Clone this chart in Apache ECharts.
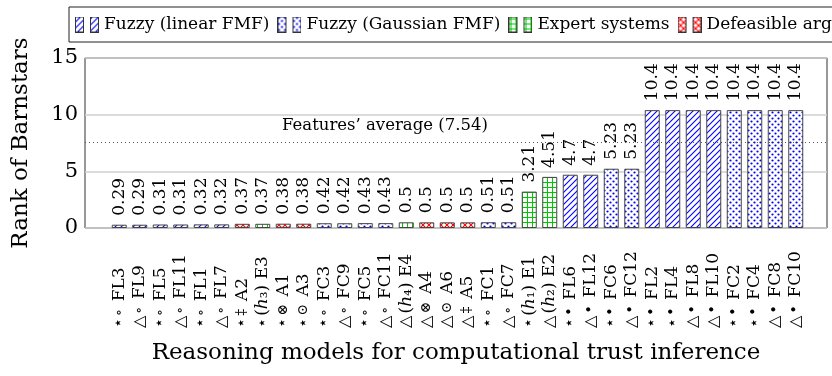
<!DOCTYPE html>
<html><head><meta charset="utf-8">
<script src="https://cdn.jsdelivr.net/npm/echarts@6/dist/echarts.min.js"></script>
<style>html,body{margin:0;padding:0;background:#fff}#c{width:832px;height:376px}</style>
</head><body><div id="c"></div>
<script>
// ---- data ----
const marks = ['⋆','△','⋆','△','⋆','△','⋆','⋆','⋆','⋆','⋆','△','⋆','△','△','△','△','△','⋆','△','⋆','△','⋆','△','⋆','△','⋆','⋆','△','△','⋆','⋆','△','△'];
const kinds = ['∘','∘','∘','∘','∘','∘','‡','h3','⊗','⊙','∘','∘','∘','∘','h4','⊗','⊙','‡','∘','∘','h1','h2','•','•','•','•','•','•','•','•','•','•','•','•'];
const names = ['FL3','FL9','FL5','FL11','FL1','FL7','A2','E3','A1','A3','FC3','FC9','FC5','FC11','E4','A4','A6','A5','FC1','FC7','E1','E2','FL6','FL12','FC6','FC12','FL2','FL4','FL8','FL10','FC2','FC4','FC8','FC10'];
const values = [0.29,0.29,0.31,0.31,0.32,0.32,0.37,0.37,0.38,0.38,0.42,0.42,0.43,0.43,0.5,0.5,0.5,0.5,0.51,0.51,3.21,4.51,4.7,4.7,5.23,5.23,10.4,10.4,10.4,10.4,10.4,10.4,10.4,10.4];
const types = ['L','L','L','L','L','L','D','E','D','D','G','G','G','G','E','D','D','D','G','G','E','E','L','L','G','G','L','L','L','L','G','G','G','G'];
const seriesKeys = ['L','G','E','D'];
const seriesNames = ['Fuzzy (linear FMF)','Fuzzy (Gaussian FMF)','Expert systems','Defeasible arg.'];
const yMin = 0, yMax = 15, yStep = 5;
const average = 7.54;
const averageLabel = 'Features’ average (7.54)';
const yTitle = 'Rank of Barnstars';
const xTitle = 'Reasoning models for computational trust inference';

const F = 'DejaVu Serif';
const SUB = {'1':'₁','2':'₂','3':'₃','4':'₄'};

// ---- patterns ----
function tile(k){
  const c = document.createElement('canvas');
  const s = k==='E' ? 5 : 6;
  c.width = s; c.height = s;
  const g = c.getContext('2d');
  g.fillStyle = '#ffffff'; g.fillRect(0,0,s,s);
  g.lineWidth = 1.1;
  function diag(dir, col){
    g.strokeStyle = col;
    g.beginPath();
    if(dir>0){ g.moveTo(-1,s+1); g.lineTo(s+1,-1); g.moveTo(-1,1); g.lineTo(1,-1); g.moveTo(s-1,s+1); g.lineTo(s+1,s-1); }
    else { g.moveTo(-1,-1); g.lineTo(s+1,s+1); g.moveTo(s-1,-1); g.lineTo(s+1,1); g.moveTo(-1,s-1); g.lineTo(1,s+1); }
    g.stroke();
  }
  if(k==='L'){ diag(1,'rgb(0,0,255)'); }
  if(k==='D'){ diag(1,'rgb(255,0,0)'); diag(-1,'rgb(255,0,0)'); }
  if(k==='E'){ g.strokeStyle='rgb(0,200,0)'; g.lineWidth=1; g.beginPath(); g.moveTo(2.5,0); g.lineTo(2.5,s); g.moveTo(0,2.5); g.lineTo(s,2.5); g.stroke(); }
  if(k==='G'){ g.fillStyle='rgb(0,0,255)'; g.beginPath(); g.arc(1.5,1.5,1.1,0,7); g.fill(); g.beginPath(); g.arc(4.5,4.5,1.1,0,7); g.fill(); }
  return c;
}
const tiles = {}; seriesKeys.forEach(k=>tiles[k]=tile(k));

function icon(k){
  const c = document.createElement('canvas'); c.width=24; c.height=16;
  const g = c.getContext('2d');
  const p = g.createPattern(tiles[k],'repeat');
  [[0.5,0.5,8,15],[15.5,0.5,8,15]].forEach(r=>{
    g.fillStyle=p; g.fillRect(r[0],r[1],r[2],r[3]);
    g.strokeStyle='#333'; g.lineWidth=1; g.strokeRect(r[0],r[1],r[2],r[3]);
  });
  return 'image://' + c.toDataURL();
}

const categories = names.map((n,i)=>i);
function catLabel(i){
  const k = kinds[i];
  const mid = k[0]==='h' ? '({i|h}' + SUB[k[1]] + ')' : '{k|' + k + '}{g| }';
  return '{m|' + marks[i] + '}{g| }' + mid + ' ' + names[i];
}

const LF = 17;
const chart = echarts.init(document.getElementById('c'), null, {renderer:'canvas'});
const frame = {left:85, right:5, top:58, bottom:148};
chart.setOption({
  animation:false,
  backgroundColor:'#fff',
  legend:{
    left:69, top:7, width:1200, padding:[9,6], itemGap:8, itemWidth:24, itemHeight:16,
    borderColor:'#222', borderWidth:1, selectedMode:false,
    textStyle:{fontFamily:F, fontSize:17, color:'#000'},
    data: seriesNames.map((n,si)=>({name:n, icon:icon(seriesKeys[si])}))
  },
  grid:[
    {left:109, right:26, top:frame.top, bottom:frame.bottom},
    {left:frame.left, right:frame.right, top:frame.top, bottom:frame.bottom, show:true, borderColor:'#333', borderWidth:1, backgroundColor:'transparent'}
  ],
  xAxis:[
    {type:'category', gridIndex:0, data:categories, boundaryGap:true,
     axisLine:{show:false}, axisTick:{show:false},
     axisLabel:{interval:0, rotate:90, align:'left', verticalAlign:'middle', margin:100,
       fontFamily:F, fontSize:LF, color:'#000', formatter:(v)=>catLabel(+v),
       rich:{
         i:{fontStyle:'italic', fontFamily:F, fontSize:LF, color:'#000'},
         m:{fontFamily:F, fontSize:16, color:'#000'},
         k:{fontFamily:F, fontSize:14, color:'#000'},
         g:{fontFamily:F, fontSize:7, color:'#000'}
       }}},
    {type:'value', gridIndex:1, min:0, max:1, axisLine:{show:false}, axisTick:{show:false}, axisLabel:{show:false}, splitLine:{show:false},
     name:xTitle, nameLocation:'middle', nameGap:114, nameTextStyle:{fontFamily:F, fontSize:23, color:'#000'}}
  ],
  yAxis:[
    {type:'value', gridIndex:0, min:yMin, max:yMax, interval:yStep, show:false},
    {type:'value', gridIndex:1, min:yMin, max:yMax, interval:yStep,
     axisLine:{show:false}, axisTick:{show:false},
     axisLabel:{fontFamily:F, fontSize:21, color:'#000', margin:7},
     splitLine:{show:true, lineStyle:{color:'#cfcfcf', width:1.5}},
     name:yTitle, nameLocation:'middle', nameGap:52, nameTextStyle:{fontFamily:F, fontSize:23, color:'#000'}}
  ],
  series: seriesKeys.map((k,si)=>({
    name:seriesNames[si], type:'bar', xAxisIndex:0, yAxisIndex:0, barWidth:15, barGap:'-100%',
    data: values.map((v,i)=> types[i]===k ? v : '-'),
    itemStyle:{color:{image:tiles[k], repeat:'repeat'}, borderColor:'#444', borderWidth:1},
    label:{show:true, position:'top', rotate:90, align:'left', verticalAlign:'middle', distance:9,
      fontFamily:F, fontSize:LF, color:'#000'},
    emphasis:{disabled:true}, silent:true
  })).concat([{
    type:'line', xAxisIndex:1, yAxisIndex:1, data:[], silent:true,
    markLine:{silent:true, symbol:'none', animation:false,
      data:[{yAxis:average}],
      lineStyle:{type:[1,3], color:'#555', width:1},
      label:{formatter:averageLabel, position:'insideStartTop', distance:[197,8], fontFamily:F, fontSize:16.5, color:'#000'}}
  }])
});
</script></body></html>
